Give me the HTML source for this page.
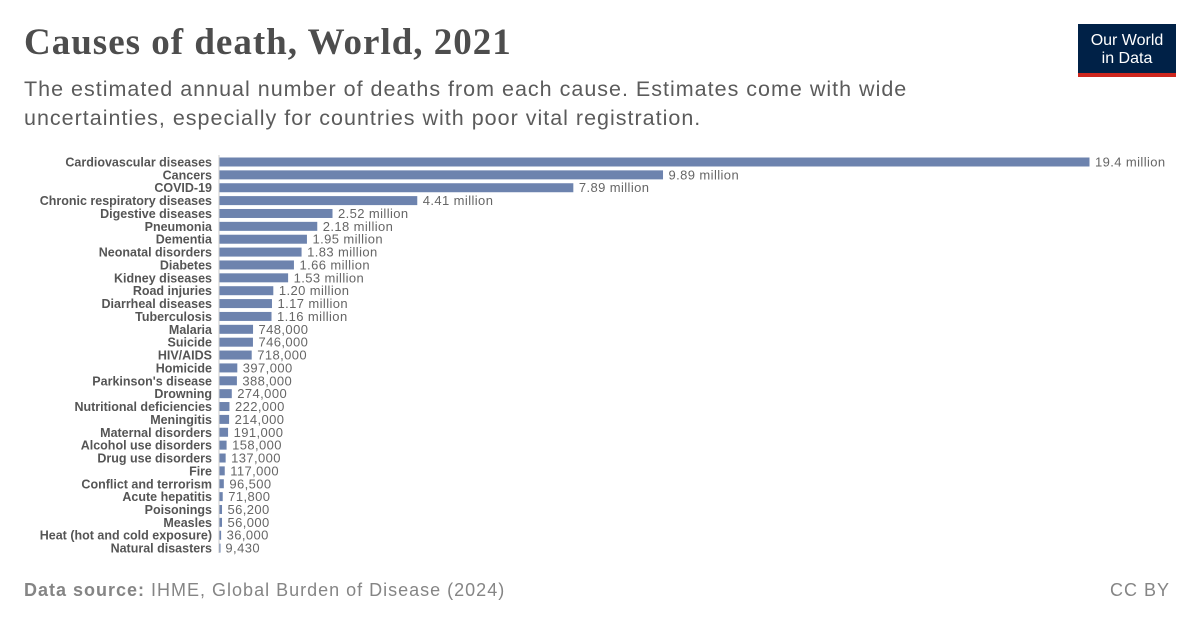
<!DOCTYPE html>
<html><head><meta charset="utf-8"><style>
body{margin:0;width:1200px;height:627px;background:#fff;font-family:"Liberation Sans",sans-serif;overflow:hidden;position:relative}
.title{position:absolute;left:24px;top:21px;font-family:"Liberation Serif",serif;font-size:37px;color:#4d4d4d;font-weight:bold;letter-spacing:1px}
.sub{position:absolute;left:24px;top:75px;font-size:21.5px;color:#5b5b5b;line-height:29px;letter-spacing:1px}
.logo{position:absolute;left:1078px;top:24px;width:98px;height:53px;background:#002147;color:#fff;font-size:16px;line-height:18px;text-align:center;box-sizing:border-box;padding-top:8px}
.logo:after{content:"";position:absolute;left:0;bottom:0;width:100%;height:4px;background:#ce261e}
.foot{position:absolute;top:580px;font-size:18px;color:#858585;letter-spacing:1px}
</style></head><body>
<div class="title">Causes of death, World, 2021</div>
<div class="sub">The estimated annual number of deaths from each cause. Estimates come with wide<br>uncertainties, especially for countries with poor vital registration.</div>
<div class="logo">Our World<br>in Data</div>
<svg id="chart" width="1200" height="627" style="position:absolute;left:0;top:0"></svg>
<div class="foot" style="left:24px"><b>Data source:</b> IHME, Global Burden of Disease (2024)</div>
<div class="foot" style="right:30px">CC BY</div>
<script>
const categories=["Cardiovascular diseases","Cancers","COVID-19","Chronic respiratory diseases","Digestive diseases","Pneumonia","Dementia","Neonatal disorders","Diabetes","Kidney diseases","Road injuries","Diarrheal diseases","Tuberculosis","Malaria","Suicide","HIV/AIDS","Homicide","Parkinson's disease","Drowning","Nutritional deficiencies","Meningitis","Maternal disorders","Alcohol use disorders","Drug use disorders","Fire","Conflict and terrorism","Acute hepatitis","Poisonings","Measles","Heat (hot and cold exposure)","Natural disasters"];
const values=[19400000,9890000,7890000,4410000,2520000,2180000,1950000,1830000,1660000,1530000,1200000,1170000,1160000,748000,746000,718000,397000,388000,274000,222000,214000,191000,158000,137000,117000,96500,71800,56200,56000,36000,9430];
const valueLabels=["19.4 million","9.89 million","7.89 million","4.41 million","2.52 million","2.18 million","1.95 million","1.83 million","1.66 million","1.53 million","1.20 million","1.17 million","1.16 million","748,000","746,000","718,000","397,000","388,000","274,000","222,000","214,000","191,000","158,000","137,000","117,000","96,500","71,800","56,200","56,000","36,000","9,430"];
const svg=document.getElementById('chart');const NS='http://www.w3.org/2000/svg';
const x0=219,xMaxPx=870,maxV=19400000;
const xs=v=>x0+v/maxV*xMaxPx;
const ys=i=>162+i*12.87;
const ax=document.createElementNS(NS,'line');


ax.setAttribute('x1',x0);ax.setAttribute('x2',x0);ax.setAttribute('y1',155);ax.setAttribute('y2',553);ax.setAttribute('stroke','#ccc');svg.appendChild(ax);
categories.forEach((c,i)=>{
 const y=ys(i);
 const t=document.createElementNS(NS,'text');
 
 
 t.setAttribute('x',212);t.setAttribute('y',y+4.5);t.setAttribute('text-anchor','end');t.setAttribute('font-size','12.5');t.setAttribute('font-weight','bold');t.setAttribute('fill','#555');t.textContent=c;svg.appendChild(t);
 const r=document.createElementNS(NS,'rect');
 
 
 r.setAttribute('x',x0+0.5);r.setAttribute('y',y-4.5);r.setAttribute('width',Math.max(1,xs(values[i])-x0));r.setAttribute('height',9);r.setAttribute('fill','#6d83ae');svg.appendChild(r);
 const v=document.createElementNS(NS,'text');
 
 
 v.setAttribute('x',xs(values[i])+6);v.setAttribute('y',y+4.5);v.setAttribute('font-size','13');v.setAttribute('letter-spacing','0.4');v.setAttribute('fill','#666');v.textContent=valueLabels[i];svg.appendChild(v);
});
</script>
</body></html>
